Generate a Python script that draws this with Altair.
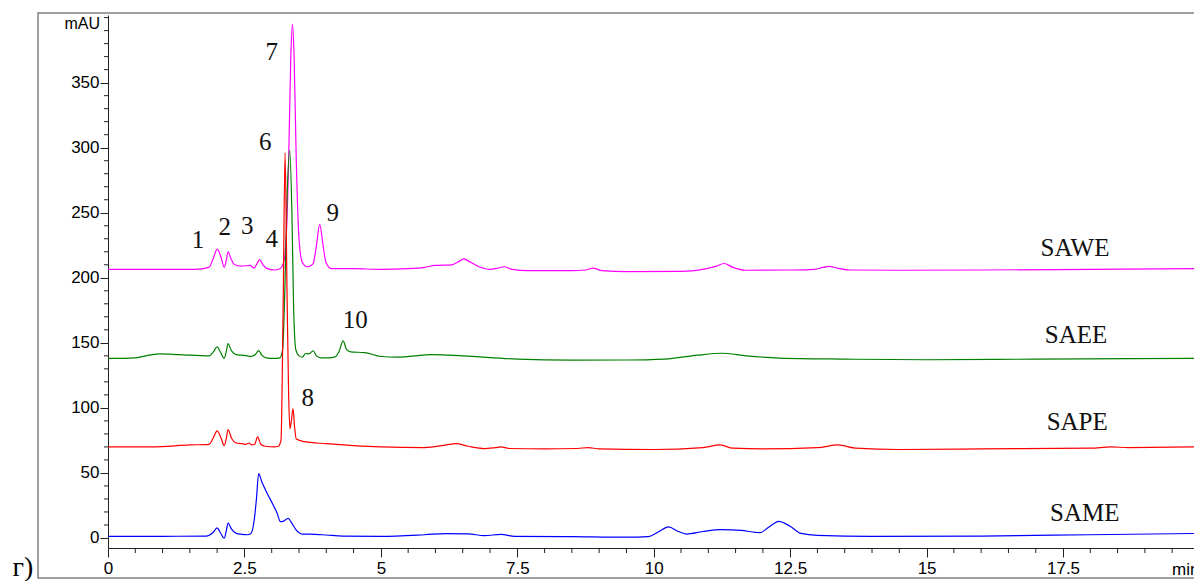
import altair as alt
import pandas as pd

# ---------------- data ----------------
samples = ["SAWE", "SAEE", "SAPE", "SAME"]
colors = ["#FF00FF", "#008000", "#FF0000", "#0000FF"]

sawe_t = [0, 1.6, 1.85, 1.93, 2.0, 2.07, 2.13, 2.17, 2.2, 2.25, 2.32, 2.45, 2.6, 2.68, 2.72, 2.78, 2.84,
          2.92, 3.05, 3.15, 3.22, 3.27, 3.31, 3.35, 3.38, 3.41, 3.45, 3.5, 3.56, 3.65, 3.72, 3.76, 3.82,
          3.88, 3.94, 4.0, 4.1, 4.5, 5.0, 5.5, 5.8, 6.0, 6.3, 6.45, 6.52, 6.6, 6.8, 7.0, 7.15, 7.26, 7.4,
          7.7, 8.5, 8.75, 8.89, 9.05, 9.5, 10.5, 10.9, 11.15, 11.29, 11.45, 11.7, 12.5, 12.95, 13.1, 13.22,
          13.35, 13.6, 14.5, 16, 18, 20]
sawe_v = [206.5, 206.5, 208, 215, 222, 216, 208, 214, 220, 215, 210, 209, 209.5, 207.5, 210, 214, 210,
          207, 206, 207, 212, 235, 290, 370, 395, 370, 290, 230, 212, 208.5, 209.5, 211, 225,
          241, 225, 211, 207, 207, 206.5, 207, 208, 209.5, 210, 213, 214.5, 213, 208.5, 206.5, 207.5, 208.5, 206.5,
          205.5, 205.5, 206, 207.5, 205.5, 204.8, 205, 206.5, 209, 211, 208, 205.8, 206, 206.5, 208, 208.8,
          207.5, 206, 205.8, 206, 206.5, 207]

saee_t = [0, 0.5, 0.75, 0.95, 1.3, 1.85, 1.93, 2.0, 2.06, 2.13, 2.17, 2.2, 2.26, 2.35, 2.45, 2.55, 2.62,
          2.7, 2.76, 2.82, 2.9, 3.05, 3.15, 3.2, 3.24, 3.28, 3.33, 3.37, 3.40, 3.44, 3.5, 3.56, 3.62, 3.68,
          3.76, 3.82, 3.9, 4.05, 4.15, 4.23, 4.31, 4.37, 4.45, 4.7, 5.0, 5.3, 5.95, 6.5, 7.5, 8.5, 9.5,
          10.2, 10.8, 11.24, 11.7, 12.3, 13.5, 15, 17, 20]
saee_v = [138, 138.5, 140.5, 141.5, 141, 140, 143, 147, 143, 138, 144, 149.5, 144, 141, 140.5, 140, 139.5,
          141, 144, 140.5, 138.5, 138, 138.5, 145, 190, 260, 298, 250, 180, 145, 140, 139, 141.8, 141.5,
          143.8, 140, 138.5, 138.5, 139, 143, 151.5, 145, 143, 142.5, 139.5, 139, 141, 140, 137.5, 136.7, 136.8,
          137.5, 140.5, 142, 140, 138.3, 137.5, 137, 137.5, 138]

sape_t = [0, 0.8, 1.5, 1.85, 1.93, 2.0, 2.07, 2.13, 2.17, 2.2, 2.26, 2.35, 2.45, 2.52, 2.58, 2.64, 2.69,
          2.74, 2.8, 2.88, 3.05, 3.12, 3.17, 3.21, 3.245, 3.28, 3.31, 3.335, 3.36, 3.39, 3.42, 3.45, 3.6,
          4.0, 4.5, 5.0, 5.8, 6.2, 6.38, 6.6, 6.9, 7.1, 7.2, 7.35, 8.0, 8.6, 8.8, 9.0, 10.0, 10.9, 11.22,
          11.45, 12.0, 13.0, 13.38, 13.7, 14.5, 16, 18.0, 18.38, 18.7, 20]
sape_v = [70, 70, 71.5, 72, 77, 82.3, 77, 71, 77, 83.4, 77, 73, 72.5, 72, 73, 71.5, 72,
          77.7, 72, 70.5, 70, 70.5, 75, 180, 296, 190, 110, 84, 90, 99.5, 85, 76, 74,
          72.5, 71, 70, 69.5, 71.5, 72.5, 70.5, 68.7, 69.5, 70, 68.8, 68.5, 68.8, 69.5, 68.5, 68, 69.5, 71.5,
          69, 68.5, 69.5, 71.5, 69, 68, 68.5, 69, 70, 69.5, 70]

same_t = [0, 1.0, 1.8, 1.92, 2.0, 2.06, 2.13, 2.17, 2.2, 2.26, 2.35, 2.45, 2.55, 2.62, 2.68, 2.72, 2.76,
          2.82, 2.92, 3.02, 3.1, 3.16, 3.22, 3.3, 3.36, 3.45, 3.56, 3.8, 4.0, 4.3, 5.0, 5.8, 6.2, 6.6, 6.9,
          7.2, 7.45, 8.5, 9.5, 9.9, 10.1, 10.27, 10.45, 10.6, 10.9, 11.24, 11.6, 11.95, 12.1, 12.29, 12.5,
          12.7, 13.0, 14.0, 16, 18, 20]
same_v = [1.3, 1.3, 1.5, 4, 7.7, 4, -0.2, 6, 11.5, 7, 3.5, 2.8, 2.5, 3.5, 14, 30, 49.5,
          43, 34, 26, 19, 12.5, 13, 15, 12, 6, 3, 2.8, 2.3, 1.5, 1.3, 2.5, 3.4, 3.2, 1.8,
          2.8, 1.3, 1.0, 0.6, 1.0, 5, 8.5, 5, 3, 5, 6.4, 5.8, 4.1, 8, 12.8, 9,
          3.5, 2, 1.3, 1.5, 2.5, 3.5]

# peak numbers (annotation text and where it sits, in data units)
peak_text = ["1", "2", "3", "4", "6", "7", "9", "10", "8"]
peak_x = [1.65, 2.14, 2.55, 3.0, 2.88, 3.0, 4.12, 4.53, 3.66]
peak_y = [229, 239, 240, 230, 304, 373.5, 250, 167.5, 107.6]

# sample names beside each trace
name_x = [17.72, 17.74, 17.76, 17.9]
name_y = [223, 156, 89, 19]

x_major = [0, 2.5, 5, 7.5, 10, 12.5, 15, 17.5]
x_minor = [i * 0.5 for i in range(0, 40) if i % 5 != 0]
y_major = [0, 50, 100, 150, 200, 250, 300, 350]
y_minor = [v for v in range(0, 410, 10) if v % 50 != 0 or v == 400]

# ---------------- build tables ----------------
rows = []
for name, ts, vs in zip(samples, [sawe_t, saee_t, sape_t, same_t], [sawe_v, saee_v, sape_v, same_v]):
    for i, (t, v) in enumerate(zip(ts, vs)):
        rows.append({"sample": name, "t": t, "v": v, "i": i})
df = pd.DataFrame(rows)
peaks = pd.DataFrame({"label": peak_text, "t": peak_x, "v": peak_y})
names = pd.DataFrame({"label": samples, "t": name_x, "v": name_y})
xmin_df = pd.DataFrame({"t": x_minor})
ymin_df = pd.DataFrame({"v": y_minor})

XDOM = [0, 19.9]
YDOM = [-7.7, 402]
W, H = 1086, 533
AX = "#222222"
LABFONT = "Liberation Sans"

xs = alt.Scale(domain=XDOM, nice=False, zero=False)
ys = alt.Scale(domain=YDOM, nice=False, zero=False)

lines = alt.Chart(df).mark_line(interpolate="monotone", strokeWidth=1.2, clip=True).encode(
    x=alt.X("t:Q", scale=xs, axis=alt.Axis(values=x_major, format=".1~f", title=None, grid=False,
                                           tickSize=9, tickColor=AX, domainColor=AX, labelColor="#000",
                                           labelFont=LABFONT, labelFontSize=17, labelPadding=3,
                                           labelFlush=False, orient="bottom")),
    y=alt.Y("v:Q", scale=ys, axis=alt.Axis(values=y_major, format="d", title=None, grid=False,
                                           tickSize=8, tickColor=AX, domainColor=AX, labelColor="#000",
                                           labelFont=LABFONT, labelFontSize=17, labelPadding=1,
                                           labelFlush=False, orient="left")),
    color=alt.Color("sample:N", scale=alt.Scale(domain=samples, range=colors), legend=None),
    detail="sample:N",
    order="i:Q",
)

# minor ticks along the axes (positions through the same scales)
x_minor_ticks = alt.Chart(xmin_df).mark_rule(color=AX, strokeWidth=1).encode(
    x=alt.X("t:Q", scale=xs, axis=None),
    y=alt.value(H), y2=alt.value(H + 5),
)
y_minor_ticks = alt.Chart(ymin_df).mark_rule(color=AX, strokeWidth=1).encode(
    y=alt.Y("v:Q", scale=ys, axis=None),
    x=alt.value(-4), x2=alt.value(0),
)

peak_lbl = alt.Chart(peaks).mark_text(font="Liberation Serif", fontSize=25, color="#111",
                                      align="center", baseline="middle").encode(
    x=alt.X("t:Q", scale=xs, axis=None),
    y=alt.Y("v:Q", scale=ys, axis=None),
    text="label:N",
)

name_lbl = alt.Chart(names).mark_text(font="Liberation Serif", fontSize=25, color="#111",
                                      align="center", baseline="middle").encode(
    x=alt.X("t:Q", scale=xs, axis=None),
    y=alt.Y("v:Q", scale=ys, axis=None),
    text="label:N",
)

deco = pd.DataFrame({"k": [0]})
frame = alt.Chart(deco).mark_rect(fillOpacity=0, stroke="#808080", strokeWidth=1.5).encode(
    x=alt.value(-70), x2=alt.value(1200), y=alt.value(-2), y2=alt.value(563)
)
mau = alt.Chart(deco).mark_text(text="mAU", font=LABFONT, fontSize=16, align="right",
                                baseline="middle", color="#000").encode(
    x=alt.value(-8), y=alt.value(9)
)
minlbl = alt.Chart(deco).mark_text(text="min", font=LABFONT, fontSize=17, align="left",
                                   baseline="middle", color="#000").encode(
    x=alt.value(1064), y=alt.value(555)
)
panel = alt.Chart(deco).mark_text(text="г)", font="Liberation Serif", fontSize=28, align="center",
                                  baseline="middle", color="#000").encode(
    x=alt.value(-85), y=alt.value(553)
)

chart = alt.layer(frame, x_minor_ticks, y_minor_ticks, lines, peak_lbl, name_lbl,
                  mau, minlbl, panel).resolve_scale(
    x="independent", y="independent"
).properties(
    width=W, height=H,
    autosize=alt.AutoSizeParams(type="none"),
    padding={"left": 108, "top": 15, "right": 0, "bottom": 33},
    background="white",
).configure_view(stroke=None)

chart.save("out.html", embed_options={"renderer": "svg", "actions": False})
